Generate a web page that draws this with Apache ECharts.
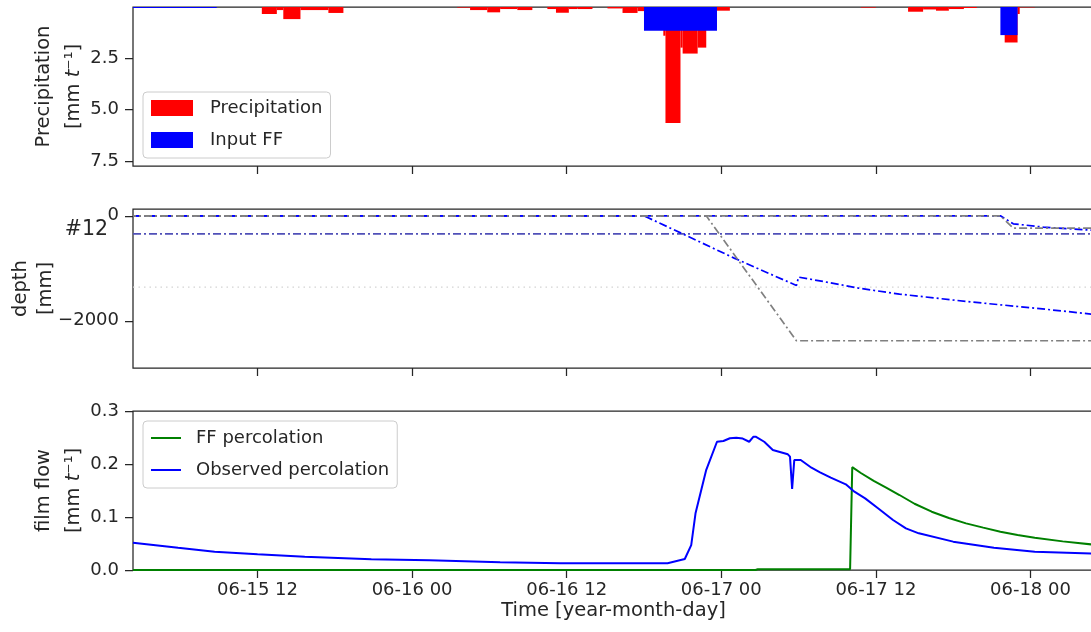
<!DOCTYPE html>
<html>
<head>
<meta charset="utf-8">
<script src="https://cdn.jsdelivr.net/npm/echarts@6/dist/echarts.min.js"></script>
<style>
  html, body { margin: 0; padding: 0; background: #ffffff; }
  #chart { width: 1091px; height: 632px; }
</style>
</head>
<body>
<div id="chart"></div>
<script>
// ---- time frame -------------------------------------------------------------
const YEAR = '2019';
const timeStart = '06-15 02:20';
const timeEnd = '06-18 04:56';
const dateTicks = ['06-15 12:00', '06-16 00:00', '06-16 12:00', '06-17 00:00', '06-17 12:00', '06-18 00:00'];

// ---- precipitation [mm t^-1] per interval -------------------------------------
const precipFrom = ['06-15 12:20', '06-15 13:30', '06-15 14:00', '06-15 15:20', '06-15 17:30',
  '06-16 03:30', '06-16 04:30', '06-16 05:50', '06-16 06:50', '06-16 08:10', '06-16 10:30', '06-16 11:10',
  '06-16 12:10', '06-16 12:50', '06-16 15:10', '06-16 16:20', '06-16 17:30', '06-16 18:00', '06-16 19:30',
  '06-16 19:40', '06-16 20:50', '06-16 21:00', '06-16 22:10', '06-16 22:50', '06-16 23:40',
  '06-17 10:50', '06-17 14:30', '06-17 15:40', '06-17 16:40', '06-17 17:40', '06-17 18:50',
  '06-17 22:00', '06-17 23:00', '06-17 23:10'];
const precipTo = ['06-15 13:30', '06-15 14:00', '06-15 15:20', '06-15 17:30', '06-15 18:40',
  '06-16 04:30', '06-16 05:50', '06-16 06:50', '06-16 08:10', '06-16 09:20', '06-16 11:10', '06-16 12:10',
  '06-16 12:50', '06-16 14:00', '06-16 16:20', '06-16 17:30', '06-16 18:00', '06-16 19:30', '06-16 19:40',
  '06-16 20:50', '06-16 21:00', '06-16 22:10', '06-16 22:50', '06-16 23:40', '06-17 00:40',
  '06-17 12:00', '06-17 15:40', '06-17 16:40', '06-17 17:40', '06-17 18:50', '06-17 19:50',
  '06-17 23:00', '06-17 23:10', '06-18 00:20'];
const precipValue = [0.34, 0.15, 0.59, 0.15, 0.29,
  0.03, 0.15, 0.26, 0.10, 0.15, 0.10, 0.28,
  0.10, 0.10, 0.07, 0.29, 0.20, 1.00, 1.40,
  5.65, 1.98, 2.27, 1.98, 1.00, 0.18,
  0.03, 0.23, 0.12, 0.18, 0.10, 0.05,
  1.73, 0.34, 0.02];

// ---- film-flow input [mm t^-1] -----------------------------------------------
const inputFrom = ['06-15 02:20', '06-16 18:00', '06-17 21:40'];
const inputTo = ['06-15 08:50', '06-16 23:40', '06-17 23:00'];
const inputValue = [0.05, 1.16, 1.37];

// ---- depths [mm] -------------------------------------------------------------
const sensorDepth = -343;
const sensorName = '#12';
const profileDepth = -1360;

const ffFront1Time = ['06-15 02:20', '06-16 22:50', '06-17 05:50', '06-18 04:56'];
const ffFront1Depth = [0, 0, -2381, -2381];
const ffFront2Time = ['06-15 02:20', '06-17 21:40', '06-17 22:40', '06-18 04:56'];
const ffFront2Depth = [0, 0, -234, -234];

const obsFront1Time = ['06-15 02:20', '06-16 18:00', '06-16 21:00', '06-17 01:00', '06-17 05:50', '06-17 06:00',
  '06-17 08:20', '06-17 10:40', '06-17 13:50', '06-17 19:00', '06-18 00:20', '06-18 04:50'];
const obsFront1Depth = [0, 0, -343, -806, -1328, -1168, -1270, -1378, -1492, -1632, -1759, -1875];
const obsFront2Time = ['06-15 02:20', '06-17 21:40', '06-17 22:40', '06-18 01:00', '06-18 04:50'];
const obsFront2Depth = [0, 0, -152, -215, -275];

// ---- percolation [mm t^-1] ----------------------------------------------------
const ffPercTime = ['06-15 02:20', '06-17 02:40', '06-17 02:50', '06-17 10:00', '06-17 10:10', '06-17 10:50',
  '06-17 11:50', '06-17 12:50', '06-17 13:50', '06-17 15:00', '06-17 16:20', '06-17 17:40', '06-17 19:00',
  '06-17 20:20', '06-17 21:40', '06-17 23:00', '06-18 00:20', '06-18 02:30', '06-18 04:50'];
const ffPercValue = [0, 0, 0.0015, 0.0015, 0.194, 0.183,
  0.168, 0.155, 0.1415, 0.125, 0.110, 0.098, 0.088,
  0.080, 0.0723, 0.066, 0.061, 0.054, 0.048];

const obsPercTime = ['06-15 02:20', '06-15 05:50', '06-15 08:40', '06-15 12:00', '06-15 15:40', '06-15 20:50',
  '06-16 01:20', '06-16 06:50', '06-16 11:30', '06-16 19:50', '06-16 21:10', '06-16 21:40', '06-16 22:00',
  '06-16 22:50', '06-16 23:40', '06-17 00:10', '06-17 00:40', '06-17 01:10', '06-17 01:40', '06-17 02:10',
  '06-17 02:30', '06-17 02:40', '06-17 03:20', '06-17 04:00', '06-17 05:10', '06-17 05:20', '06-17 05:30',
  '06-17 05:40', '06-17 06:10', '06-17 07:00', '06-17 07:40', '06-17 08:30', '06-17 09:40', '06-17 10:20',
  '06-17 11:10', '06-17 12:10', '06-17 13:20', '06-17 14:20', '06-17 15:20', '06-17 18:00', '06-17 21:10',
  '06-18 00:20', '06-18 04:50'];
const obsPercValue = [0.0515, 0.042, 0.0346, 0.0296, 0.0252, 0.0201,
  0.0182, 0.0145, 0.0126, 0.0126, 0.0208, 0.047, 0.107,
  0.189, 0.242, 0.2434, 0.2485, 0.2497, 0.248, 0.242,
  0.2516, 0.2516, 0.242, 0.2264, 0.2183, 0.2138, 0.1528,
  0.2075, 0.2075, 0.193, 0.1843, 0.1742, 0.1617, 0.1478,
  0.1352, 0.1164, 0.0943, 0.0786, 0.0692, 0.0535, 0.0421,
  0.0346, 0.031];

// ---- helpers -----------------------------------------------------------------
const T = s => new Date(YEAR + '-' + s.replace(' ', 'T') + ':00').getTime();
const pairs = (ts, vs) => ts.map((t, i) => [T(t), vs[i]]);
const spans = (from, to, vs) => from.map((f, i) => [T(f), T(to[i]), vs[i]]);
const pad = n => String(n).padStart(2, '0');
const fmtDate = v => { const d = new Date(v); return pad(d.getMonth() + 1) + '-' + pad(d.getDate()) + ' ' + pad(d.getHours()); };

const INK = '#262626';
const FONT = 'DejaVu Sans';
const tickTimes = dateTicks.map(T);

function barRenderer(color) {
  return function (params, api) {
    const a = api.coord([api.value(0), 0]);
    const b = api.coord([api.value(1), api.value(2)]);
    return {
      type: 'rect',
      shape: { x: a[0], y: a[1], width: b[0] - a[0], height: b[1] - a[1] },
      style: { fill: color }
    };
  };
}

// time runs on a numeric axis (ms), ticks placed at the 12-hour marks
function timeAxis(gridIndex, withLabels) {
  return {
    type: 'value', gridIndex: gridIndex,
    min: T(timeStart), max: T(timeEnd),
    axisLine: { show: false, onZero: false },
    splitLine: { show: false },
    axisTick: { show: true, inside: false, length: 8, customValues: tickTimes, lineStyle: { color: INK, width: 1.25 } },
    axisLabel: withLabels
      ? { show: true, customValues: tickTimes, formatter: fmtDate, color: INK, fontFamily: FONT, fontSize: 18, margin: 11 }
      : { show: false },
    name: withLabels ? 'Time [year-month-day]' : '',
    nameLocation: 'middle', nameGap: 31, nameMoveOverlap: false,
    nameTextStyle: { color: INK, fontFamily: FONT, fontSize: 19.5 }
  };
}

const gridBase = {
  left: 133, right: -3, height: 159, show: true, outerBoundsMode: 'none', containLabel: false,
  borderColor: INK, borderWidth: 1.25, backgroundColor: 'transparent'
};
const nameRich = { i: { fontStyle: 'italic', fontFamily: FONT, fontSize: 19.5, color: INK, lineHeight: 30 } };

const dashDot = [8, 3, 2, 3];

const option = {
  animation: false,
  backgroundColor: '#ffffff',
  textStyle: { fontFamily: FONT, color: INK },
  grid: [
    Object.assign({ top: 7 }, gridBase),
    Object.assign({ top: 209 }, gridBase),
    Object.assign({ top: 411 }, gridBase)
  ],
  xAxis: [timeAxis(0, false), timeAxis(1, false), timeAxis(2, true)],
  yAxis: [
    {
      type: 'value', gridIndex: 0, inverse: true, min: 0, max: 7.75,
      axisLine: { show: false, onZero: false }, splitLine: { show: false },
      axisTick: { show: true, length: 8, customValues: [2.5, 5, 7.5], lineStyle: { color: INK, width: 1.25 } },
      axisLabel: { customValues: [2.5, 5, 7.5], formatter: v => v.toFixed(1), color: INK, fontFamily: FONT, fontSize: 18, margin: 14 },
      name: 'Precipitation\n[mm {i|t}⁻¹]', nameLocation: 'middle', nameGap: 44, nameRotate: 90, nameMoveOverlap: false,
      nameTextStyle: { color: INK, fontFamily: FONT, fontSize: 19.5, lineHeight: 30, rich: nameRich }
    },
    {
      type: 'value', gridIndex: 1, min: -2900, max: 130,
      axisLine: { show: false, onZero: false }, splitLine: { show: false },
      axisTick: { show: true, length: 8, customValues: [-2000, 0], lineStyle: { color: INK, width: 1.25 } },
      axisLabel: { customValues: [-2000, 0], formatter: v => (v < 0 ? '\u2212' + Math.abs(v) : String(v)), color: INK, fontFamily: FONT, fontSize: 18, margin: 14 },
      name: 'depth\n[mm]', nameLocation: 'middle', nameGap: 75, nameRotate: 90, nameMoveOverlap: false,
      nameTextStyle: { color: INK, fontFamily: FONT, fontSize: 19.5, lineHeight: 25 }
    },
    {
      type: 'value', gridIndex: 2, min: 0, max: 0.3, interval: 0.1,
      axisLine: { show: false, onZero: false }, splitLine: { show: false },
      axisTick: { show: true, length: 8, lineStyle: { color: INK, width: 1.25 } },
      axisLabel: { formatter: v => v.toFixed(1), color: INK, fontFamily: FONT, fontSize: 18, margin: 14 },
      name: 'film flow\n[mm {i|t}⁻¹]', nameLocation: 'middle', nameGap: 44, nameRotate: 90, nameMoveOverlap: false,
      nameTextStyle: { color: INK, fontFamily: FONT, fontSize: 19.5, lineHeight: 30, rich: nameRich }
    }
  ],
  legend: [
    {
      data: ['Precipitation', 'Input FF'],
      orient: 'vertical', left: 143, top: 92,
      itemWidth: 42, itemHeight: 16, itemGap: 14, icon: 'rect',
      padding: [7, 8, 9, 8],
      backgroundColor: 'rgba(255,255,255,0.8)', borderColor: '#cccccc', borderWidth: 1, borderRadius: 4,
      textStyle: { color: INK, fontFamily: FONT, fontSize: 18, lineHeight: 16, padding: [0, 0, 0, 12] }
    },
    {
      data: ['FF percolation', 'Observed percolation'],
      orient: 'vertical', left: 143, top: 421,
      itemWidth: 30, itemHeight: 16, itemGap: 14,
      icon: 'path://M0,7L30,7L30,9L0,9Z',
      padding: [8, 8, 9, 8],
      backgroundColor: 'rgba(255,255,255,0.8)', borderColor: '#cccccc', borderWidth: 1, borderRadius: 4,
      textStyle: { color: INK, fontFamily: FONT, fontSize: 18, lineHeight: 16, padding: [0, 0, 0, 10] }
    }
  ],
  series: [
    // precipitation and film-flow input, drawn downward from the top
    {
      name: 'Precipitation', type: 'custom', xAxisIndex: 0, yAxisIndex: 0, clip: true,
      itemStyle: { color: '#ff0000' },
      encode: { x: [0, 1], y: 2 },
      renderItem: barRenderer('#ff0000'),
      data: spans(precipFrom, precipTo, precipValue)
    },
    {
      name: 'Input FF', type: 'custom', xAxisIndex: 0, yAxisIndex: 0, clip: true,
      itemStyle: { color: '#0000ff' },
      encode: { x: [0, 1], y: 2 },
      renderItem: barRenderer('#0000ff'),
      data: spans(inputFrom, inputTo, inputValue)
    },
    // depth panel
    {
      name: 'profile', type: 'line', xAxisIndex: 1, yAxisIndex: 1, symbol: 'none',
      lineStyle: { color: '#d3d3d3', width: 1.2, type: [1.5, 4] },
      data: [[T(timeStart), profileDepth], [T(timeEnd), profileDepth]]
    },
    {
      name: 'sensor', type: 'line', xAxisIndex: 1, yAxisIndex: 1, symbol: 'none',
      lineStyle: { color: '#5050b8', width: 1.8, type: dashDot },
      data: [[T(timeStart), sensorDepth], [T(timeEnd), sensorDepth]],
      markPoint: {
        symbol: 'circle', symbolSize: 0,
        data: [{ coord: [T(timeStart), sensorDepth] }],
        label: { show: true, formatter: sensorName, position: 'left', distance: 25, offset: [0, -4], color: INK, fontFamily: FONT, fontSize: 20.5 }
      }
    },
    {
      name: 'obs front 1', type: 'line', xAxisIndex: 1, yAxisIndex: 1, symbol: 'none',
      lineStyle: { color: '#0000ff', width: 1.7, type: dashDot },
      data: pairs(obsFront1Time, obsFront1Depth)
    },
    {
      name: 'obs front 2', type: 'line', xAxisIndex: 1, yAxisIndex: 1, symbol: 'none',
      lineStyle: { color: '#0000ff', width: 1.7, type: dashDot },
      data: pairs(obsFront2Time, obsFront2Depth)
    },
    {
      name: 'ff front 1', type: 'line', xAxisIndex: 1, yAxisIndex: 1, symbol: 'none',
      lineStyle: { color: '#808080', width: 1.7, type: dashDot, dashOffset: 5 },
      data: pairs(ffFront1Time, ffFront1Depth)
    },
    {
      name: 'ff front 2', type: 'line', xAxisIndex: 1, yAxisIndex: 1, symbol: 'none',
      lineStyle: { color: '#808080', width: 1.7, type: dashDot, dashOffset: 5 },
      data: pairs(ffFront2Time, ffFront2Depth)
    },
    // percolation panel
    {
      name: 'FF percolation', type: 'line', xAxisIndex: 2, yAxisIndex: 2, symbol: 'none',
      itemStyle: { color: '#008000' },
      lineStyle: { color: '#008000', width: 2 },
      data: pairs(ffPercTime, ffPercValue)
    },
    {
      name: 'Observed percolation', type: 'line', xAxisIndex: 2, yAxisIndex: 2, symbol: 'none',
      itemStyle: { color: '#0000ff' },
      lineStyle: { color: '#0000ff', width: 2 },
      data: pairs(obsPercTime, obsPercValue)
    }
  ]
};

const chart = echarts.init(document.getElementById('chart'), null, { renderer: 'canvas' });
chart.setOption(option);
</script>
</body>
</html>
